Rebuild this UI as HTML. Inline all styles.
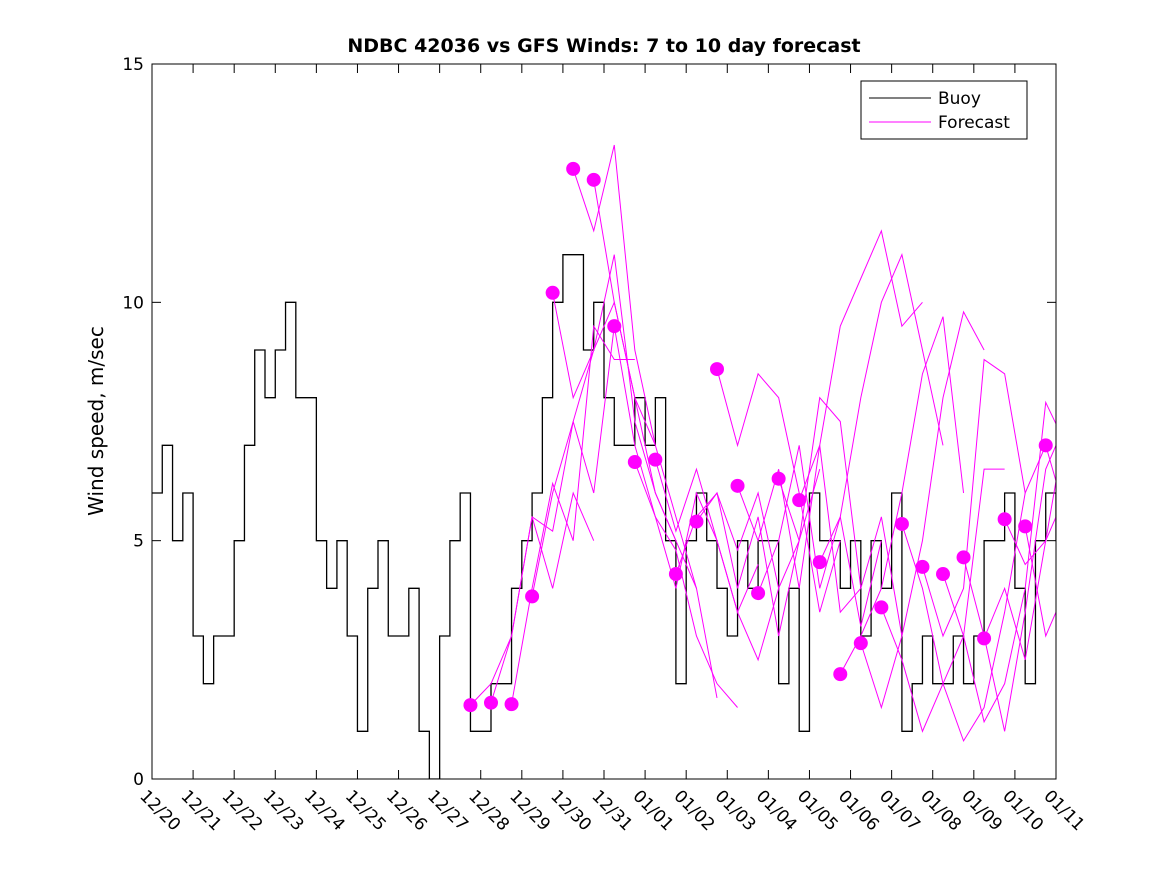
<!DOCTYPE html>
<html><head><meta charset="utf-8"><style>
body{margin:0;background:#fff;}
svg text{font-family:"DejaVu Sans","Liberation Sans",sans-serif;}
</style></head><body>
<svg id="chart" width="1167" height="875" xmlns="http://www.w3.org/2000/svg">
<defs><clipPath id="clip"><rect x="152" y="64" width="904" height="715"/></clipPath></defs>
<rect x="0" y="0" width="1167" height="875" fill="#fff"/>
<text x="604" y="52" text-anchor="middle" font-size="19" font-weight="bold">NDBC 42036 vs GFS Winds: 7 to 10 day forecast</text>
<text transform="translate(103,421) rotate(-90)" text-anchor="middle" font-size="20">Wind speed, m/sec</text>
<g id="axes"></g>
<g id="plot" clip-path="url(#clip)"></g>
<rect x="152" y="64" width="904" height="715" fill="none" stroke="#000" stroke-width="1"/>
<g>
<rect x="861" y="81" width="166" height="58" fill="#fff" stroke="#000"/>
<line x1="869" y1="98" x2="931" y2="98" stroke="#000"/>
<text x="938" y="104" font-size="17">Buoy</text>
<line x1="869" y1="122" x2="931" y2="122" stroke="#f0f"/>
<text x="938" y="128" font-size="17">Forecast</text>
</g>
</svg>
<script>
const xTickLabels=["12/20","12/21","12/22","12/23","12/24","12/25","12/26","12/27","12/28","12/29","12/30","12/31","01/01","01/02","01/03","01/04","01/05","01/06","01/07","01/08","01/09","01/10","01/11"];
const yTicks=[0,5,10,15];
// buoy: 4 samples per day starting 12/20
const buoy=[6,7,5,6, 3,2,3,3, 5,7,9,8, 9,10,8,8, 5,4,5,3, 1,4,5,3, 3,4,1,0, 3,5,6,1, 1,2,2,4, 5,6,8,10, 11,11,9,10, 8,7,7,8, 7,8,5,2, 5,6,5,4, 3,5,4,5, 5,2,4,1, 6,5,5,4, 5,3,5,4, 6,1,2,3, 2,2,3,2, 3,5,5,6, 4,2,5,6, 5];
// forecast start times (days after 12/20) and values every 0.5 day
const fcStart=[7.75,8.25,8.75,9.25,9.75,10.25,10.75,11.25,11.75,12.25,12.75,13.25,13.75,14.25,14.75,15.25,15.75,16.25,16.75,17.25,17.75,18.25,18.75,19.25,19.75,20.25,20.75,21.25,21.75];
const fcVals=[
[1.55,2,3,5.5,4,6,5],[1.6,3,5.5,5.2,7.5,6,9.5],[1.57,4,6.2,5,9.5,8.8,8.8],[3.83,6,7.5,9,10,8,7],
[10.2,8,9,11,7.5,6,5],[12.8,11.5,13.3,9,7,5.5,4],[12.57,10,8,6,5,4,1.7],[9.5,7,5.5,4.8,3,2,1.5],
[6.65,5.5,4,6,5,3.5,4.5],[6.7,5.2,6.5,5,3.5,2.5,4],[4.3,5.5,6,4.8,6,4,5],[5.4,6,4,5.5,3,5,6.5],
[8.6,7,8.5,8,6,3.5,5],[6.15,5,6.5,4,7,3.5,4],[3.9,5,7,4,5.5,3.2,5],[6.3,5,8,7.5,4,5.5,3],
[5.85,7,9.5,10.5,11.5,9.5,10],[4.55,5.5,8,10,11,9,7],[2.2,3,4,6,8.5,9.7,6],[2.85,1.5,3,5,8,9.8,9],
[3.6,2.5,1,2,3,6.5,6.5],[5.35,4,2,0.8,1.5,3.5,6],[4.45,3,4,8.8,8.5,6,7],[4.3,3,1.2,2,4,7.9,7],
[4.65,3,1,3.5,6.5,7.5,5],[2.95,4,2.5,5,6,7.3,5.5],[5.45,4.5,5,7.5,6,2,4],[5.3,3,4,8.6,7.9,5],[7.0,5.5,11.4,10]];
const X0=152,X1=1056,Y0=779,Y1=64;
const xS=d=>X0+d*(X1-X0)/22;
const yS=v=>Y0-v*(Y0-Y1)/15;
const NS="http://www.w3.org/2000/svg";
const axes=document.getElementById('axes'),plot=document.getElementById('plot');
function mk(tag,attrs,parent){const e=document.createElementNS(NS,tag);for(const k in attrs)e.setAttribute(k,attrs[k]);parent.appendChild(e);return e;}
xTickLabels.forEach((t,i)=>{const x=xS(i);
 const l=mk('line',{x1:x,y1:Y0,x2:x,y2:Y0-9,stroke:'#000'},axes);
 
 
 const l2=mk('line',{x1:x,y1:Y1,x2:x,y2:Y1+9,stroke:'#000'},axes);
 
 
 const tx=mk('text',{transform:`translate(${x-13},${Y0+18}) rotate(45)`,'font-size':17},axes);
 tx.textContent=t;
 
 
});
yTicks.forEach(v=>{const y=yS(v);
 const l=mk('line',{x1:X0,y1:y,x2:X0+9,y2:y,stroke:'#000'},axes);
 
 
 const l2=mk('line',{x1:X1,y1:y,x2:X1-9,y2:y,stroke:'#000'},axes);
 
 
 const tx=mk('text',{x:X0-8,y:y+6,'text-anchor':'end','font-size':17},axes);
 tx.textContent=v;
 
 
});
let d='';buoy.forEach((v,i)=>{const x=xS(i*0.25),y=yS(v);d+=(i?`H${x}V${y}`:`M${x},${y}`);});
d+=`H${xS(buoy.length*0.25)}`;
const bp=mk('path',{d:d,fill:'none',stroke:'#000','stroke-width':1.3},plot);


fcVals.forEach((vals,k)=>{
 const pts=vals.map((v,j)=>`${xS(fcStart[k]+j*0.5)},${yS(v)}`).join(' ');
 const pl=mk('polyline',{points:pts,fill:'none',stroke:'#f0f','stroke-width':1},plot);
 
 
});
fcVals.forEach((vals,k)=>{
 const c=mk('circle',{cx:xS(fcStart[k]),cy:yS(vals[0]),r:7,fill:'#f0f'},plot);
 
 
});
</script>
</body></html>
